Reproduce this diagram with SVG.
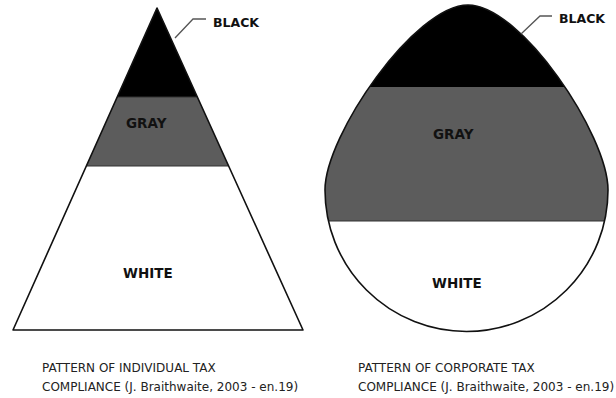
<svg xmlns="http://www.w3.org/2000/svg" width="616" height="398" viewBox="0 0 616 398">
<style>
.lbl{font-family:"DejaVu Sans",Verdana,sans-serif;font-weight:bold;fill:#111;}
.cap{font-family:"DejaVu Sans",Verdana,sans-serif;font-size:12px;fill:#222;}
.edge{fill:none;stroke:#111;stroke-width:1.6;stroke-linejoin:round;}
.lead{fill:none;stroke:#555;stroke-width:1.3;}
</style>
<defs>
<clipPath id="eggClip">
<path d="M325,190 C325,135 415,5 468,5 C521,5 608,135 608,190 A141.5,141.5 0 0 1 325,190 Z"/>
</clipPath>
</defs>
<rect width="616" height="398" fill="#fff"/>
<g id="triangle">
<polygon points="13,330 303,330 228.6,166 86.3,166" fill="#fff"/>
<polygon points="86.3,166 228.6,166 197.4,97 117.2,97" fill="#5c5c5c"/>
<polygon points="117.2,97 197.4,97 157,8" fill="#000"/>
<line x1="117.2" y1="97" x2="197.4" y2="97" stroke="#333" stroke-width="1"/>
<line x1="86.3" y1="166" x2="228.6" y2="166" stroke="#333" stroke-width="1"/>
<polygon class="edge" points="157,8 303,330 13,330"/>
<text class="lbl" x="126" y="128" font-size="13.5">GRAY</text>
<text class="lbl" x="123" y="278" font-size="13.5">WHITE</text>
</g>
<g id="egg">
<g clip-path="url(#eggClip)">
<rect x="320" y="0" width="295" height="87" fill="#000"/>
<rect x="320" y="87" width="295" height="134" fill="#5c5c5c"/>
<rect x="320" y="221" width="295" height="120" fill="#fff"/>
<line x1="320" y1="221" x2="615" y2="221" stroke="#333" stroke-width="1"/>
</g>
<path class="edge" d="M325,190 C325,135 415,5 468,5 C521,5 608,135 608,190 A141.5,141.5 0 0 1 325,190 Z"/>
<text class="lbl" x="433" y="139" font-size="13.5">GRAY</text>
<text class="lbl" x="432" y="288" font-size="13.5">WHITE</text>
</g>
<g id="connectors">
<polyline class="lead" points="175,38 193,19 206,19"/>
<polyline class="lead" points="521,34 540,16 552,16"/>
</g>
<g id="black-labels">
<text class="lbl" x="213" y="27" font-size="12.5">BLACK</text>
<text class="lbl" x="559" y="23" font-size="12.5">BLACK</text>
</g>
<g id="captions">
<text class="cap" x="42" y="372">PATTERN OF INDIVIDUAL TAX</text>
<text class="cap" x="42" y="391">COMPLIANCE (J. Braithwaite, 2003 - en.19)</text>
<text class="cap" x="358" y="372">PATTERN OF CORPORATE TAX</text>
<text class="cap" x="358" y="391">COMPLIANCE (J. Braithwaite, 2003 - en.19)</text>
</g>
</svg>
